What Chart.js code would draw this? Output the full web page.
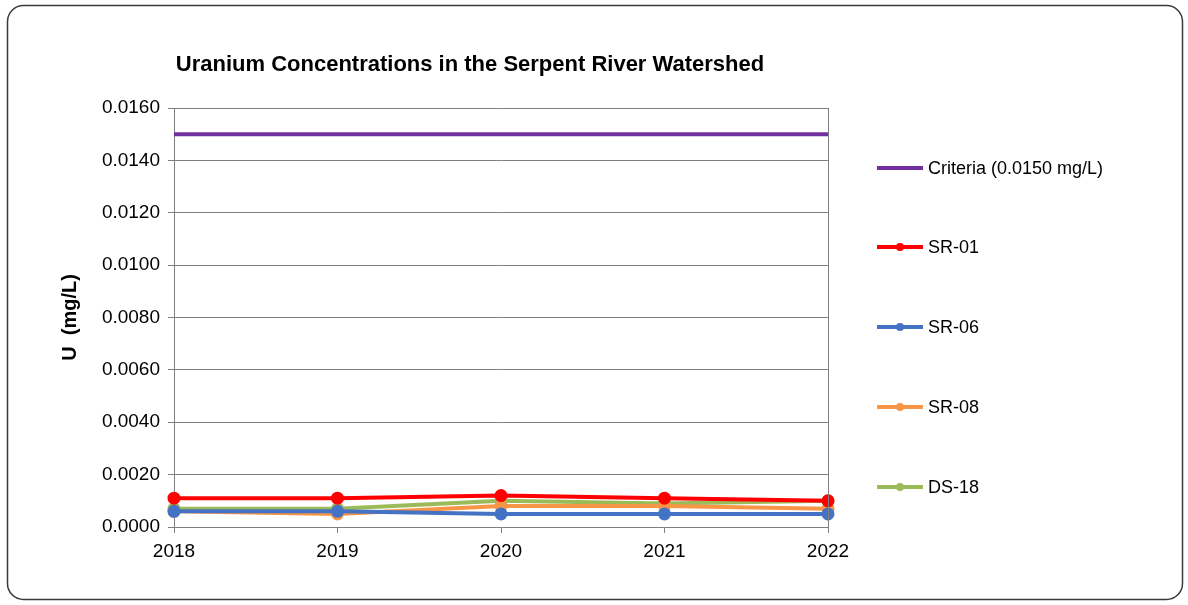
<!DOCTYPE html>
<html>
<head>
<meta charset="utf-8">
<script src="https://cdn.jsdelivr.net/npm/chart.js@4.4.1/dist/chart.umd.min.js"></script>
<style>
  html, body { margin: 0; padding: 0; background: #fff; }
  #wrap { width: 1188px; height: 605px; position: relative; }
</style>
</head>
<body>
<div id="wrap"><canvas id="c" width="1188" height="605"></canvas></div>
<script>
// Sampling years and uranium concentrations (mg/L)
const years = ['2018', '2019', '2020', '2021', '2022'];
const criteria = [0.0150, 0.0150, 0.0150, 0.0150, 0.0150];
const sr01 = [0.0011, 0.0011, 0.0012, 0.0011, 0.0010];
const sr06 = [0.0006, 0.0006, 0.0005, 0.0005, 0.0005];
const sr08 = [0.0006, 0.0005, 0.0008, 0.0008, 0.0007];
const ds18 = [0.0007, 0.0007, 0.0010, 0.0009, 0.0010];
const yTicks = [0, 0.002, 0.004, 0.006, 0.008, 0.010, 0.012, 0.014, 0.016];

const FONT = 'Arial, "Liberation Sans", sans-serif';

function series(label, data, color, withMarkers) {
  return {
    label, data,
    borderColor: color,
    backgroundColor: color,
    borderWidth: 4,
    pointRadius: withMarkers ? 4.5 : 0,
    pointHoverRadius: withMarkers ? 4.5 : 0,
    pointBackgroundColor: color,
    pointBorderColor: color,
    tension: 0,
    fill: false
  };
}

// Frame, plot box, title and side legend
const decorations = {
  id: 'decorations',
  beforeDraw(chart) {
    const ctx = chart.ctx;
    ctx.save();
    ctx.fillStyle = '#fff';
    ctx.fillRect(0, 0, chart.width, chart.height);
    ctx.strokeStyle = '#3a3a3a';
    ctx.lineWidth = 1.5;
    ctx.beginPath();
    ctx.roundRect(7.5, 5.5, 1175, 594, 16);
    ctx.stroke();
    ctx.restore();
  },
  afterDatasetsDraw(chart) {
    const ctx = chart.ctx;
    const a = chart.chartArea;
    ctx.save();
    ctx.strokeStyle = '#808080';
    ctx.lineWidth = 1;
    ctx.beginPath();
    ctx.moveTo(Math.round(a.right) + 0.5, a.top);
    ctx.lineTo(Math.round(a.right) + 0.5, a.bottom);
    ctx.stroke();

    // Title
    ctx.fillStyle = '#000';
    ctx.font = 'bold 22px ' + FONT;
    ctx.textAlign = 'center';
    ctx.textBaseline = 'middle';
    ctx.fillText('Uranium Concentrations in the Serpent River Watershed', 470, 65);

    // Legend
    const rows = [168, 247, 327, 407, 487];
    ctx.font = '18px ' + FONT;
    ctx.textAlign = 'left';
    chart.data.datasets.forEach((ds, i) => {
      const y = rows[i];
      ctx.strokeStyle = ds.borderColor;
      ctx.lineWidth = 4;
      ctx.beginPath();
      ctx.moveTo(877, y);
      ctx.lineTo(923, y);
      ctx.stroke();
      if (ds.pointRadius > 0) {
        ctx.fillStyle = ds.borderColor;
        ctx.beginPath();
        ctx.arc(900, y, 4, 0, Math.PI * 2);
        ctx.fill();
      }
      ctx.fillStyle = '#000';
      ctx.fillText(ds.label, 928, y + 1);
    });
    ctx.restore();
  }
};

new Chart(document.getElementById('c'), {
  type: 'line',
  data: {
    labels: years,
    datasets: [
      series('Criteria (0.0150 mg/L)', criteria, '#7030A0', false),
      series('SR-01', sr01, '#FF0000', true),
      series('SR-06', sr06, '#4472C4', true),
      series('SR-08', sr08, '#F79646', true),
      series('DS-18', ds18, '#9BBB59', true)
    ]
  },
  options: {
    responsive: false,
    animation: false,
    devicePixelRatio: 1,
    layout: { padding: { left: 58, top: 108, right: 360, bottom: 0 } },
    plugins: {
      legend: { display: false },
      title: { display: false },
      tooltip: { enabled: false }
    },
    scales: {
      x: {
        offset: false,
        grid: {
          drawOnChartArea: false,
          drawTicks: true,
          tickLength: 6,
          color: '#808080'
        },
        border: { color: '#808080', width: 1 },
        ticks: {
          color: '#000',
          font: { family: FONT, size: 19 },
          padding: 7,
          maxRotation: 0
        },
        afterFit(scale) { scale.height = 605 - 527; }
      },
      y: {
        min: 0,
        max: 0.016,
        afterBuildTicks(scale) { scale.ticks = yTicks.map(v => ({ value: v })); },
        grid: {
          color: '#808080',
          lineWidth: 1,
          drawTicks: true,
          tickLength: 6
        },
        border: { color: '#808080', width: 1 },
        ticks: {
          color: '#000',
          font: { family: FONT, size: 19 },
          padding: 8,
          callback: v => Number(v).toFixed(4)
        },
        title: {
          display: true,
          text: 'U  (mg/L)',
          color: '#000',
          font: { family: FONT, size: 20, weight: 'bold' },
          padding: { top: 0, bottom: 0 }
        },
        afterFit(scale) { scale.width = 174 - 58; }
      }
    }
  },
  plugins: [decorations]
});
</script>
</body>
</html>
